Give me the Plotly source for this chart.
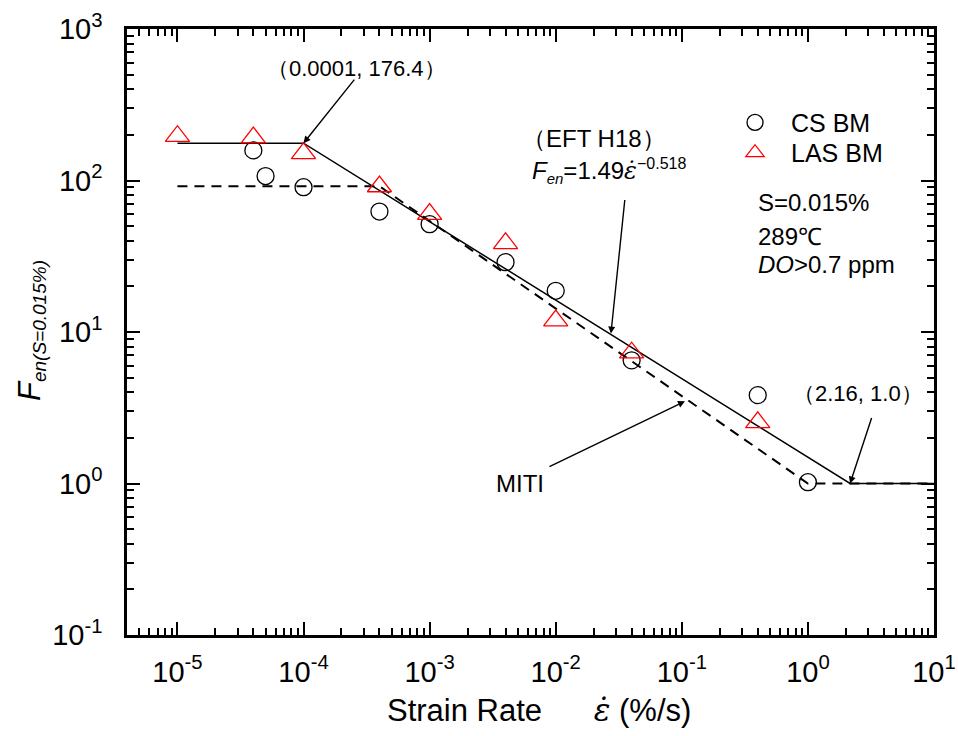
import numpy as np
import plotly.graph_objects as go

# ---------------- data ----------------
cs_x = [4e-5, 5e-5, 1e-4, 4e-4, 1e-3, 4e-3, 1e-2, 4e-2, 0.4, 1.0]
cs_y = [158, 107, 90.3, 62.4, 51.5, 28.9, 18.7, 6.5, 3.83, 1.02]

las_x = [1e-5, 4e-5, 1e-4, 4e-4, 1e-3, 4e-3, 1e-2, 4e-2, 0.4]
las_y = [196, 192, 151, 91.3, 60, 38.5, 11.9, 7.3, 2.53]

# EFT H18 model (knee points)
eft_x = [1e-5, 1e-4, 2.16, 10]
eft_y = [176.4, 176.4, 1.0, 1.0]

# MITI model (knee points)
miti_x = [1e-5, 4e-4, 1.0, 10]
miti_y = [91.7, 91.7, 1.0, 1.0]

x_tickvals = [1e-5, 1e-4, 1e-3, 1e-2, 1e-1, 1e0, 1e1]
x_ticktext = ["10<sup>-5</sup>", "10<sup>-4</sup>", "10<sup>-3</sup>", "10<sup>-2</sup>",
              "10<sup>-1</sup>", "10<sup>0</sup>", "10<sup>1</sup>"]
y_tickvals = [1e-1, 1e0, 1e1, 1e2, 1e3]
y_ticktext = ["10<sup>-1</sup>", "10<sup>0</sup>", "10<sup>1</sup>", "10<sup>2</sup>", "10<sup>3</sup>"]

x_minor = [k * 10.0 ** e for e in range(-6, 1) for k in range(2, 10)]
y_minor = [k * 10.0 ** e for e in range(-1, 3) for k in range(2, 10)]

FONT = "Liberation Sans, Arial, sans-serif"
EPS = "<span style='font-family:DejaVu Serif'><i>ε̇</i></span>"

fig = go.Figure()
fig.add_trace(go.Scatter(x=miti_x, y=miti_y, mode="lines", showlegend=False,
                         line=dict(color="black", width=2, dash="10px,7px")))
fig.add_trace(go.Scatter(x=eft_x, y=eft_y, mode="lines", showlegend=False,
                         line=dict(color="black", width=1.5)))
fig.add_trace(go.Scatter(x=cs_x, y=cs_y, mode="markers", name="CS BM", legend="legend",
                         marker=dict(symbol="circle-open", size=17,
                                     line=dict(color="black", width=1.3), color="black")))
fig.add_trace(go.Scatter(x=las_x, y=las_y, mode="markers", name="LAS BM", legend="legend2",
                         marker=dict(symbol="triangle-up-open", size=21,
                                     line=dict(color="red", width=1.3), color="red")))

axis_common = dict(
    type="log", showline=True, linecolor="black", linewidth=2.5, mirror="ticks",
    ticks="inside", ticklen=13, tickwidth=1.6, tickcolor="black", automargin=False,
    showgrid=False, zeroline=False, tickmode="array",
    tickfont=dict(family=FONT, size=29, color="black"),
)

fig.update_xaxes(**axis_common, range=[-5.4, 1], tickvals=x_tickvals, ticktext=x_ticktext,
                 ticklabelstandoff=9,
                 minor=dict(ticks="inside", ticklen=7, tickwidth=1.6, tickcolor="black",
                            tickmode="array", tickvals=x_minor, showgrid=False))
fig.update_yaxes(**axis_common, range=[-1, 3], tickvals=y_tickvals, ticktext=y_ticktext,
                 ticklabelstandoff=16,
                 minor=dict(ticks="inside", ticklen=7, tickwidth=1.6, tickcolor="black",
                            tickmode="array", tickvals=y_minor, showgrid=False))


def txt(text, x, y, size=23, xanchor="center", angle=0):
    return dict(text=text, x=x, y=y, xref="paper", yref="paper", xanchor=xanchor,
                yanchor="middle", showarrow=False, textangle=angle,
                font=dict(family=FONT, size=size, color="black"))


def arrow(x, y, ax, ay):
    return dict(text="", x=x, y=y, xref="x", yref="y", showarrow=True, ax=ax, ay=ay,
                arrowhead=2, arrowsize=1, arrowwidth=1.4, arrowcolor="black")


annotations = [
    txt("（0.0001, 176.4）", 0.285, 0.9356, size=22),
    txt("（EFT H18）", 0.5787, 0.8185, size=24),
    txt("<i>F</i><sub><span style='font-size:15px'><i>en</i></span></sub>=1.49" + EPS +
        "<sup><span style='font-size:16px'>−0.518</span></sup>",
        0.4994, 0.765, size=24, xanchor="left"),
    txt("MITI", 0.487, 0.2508, size=24),
    txt("（2.16, 1.0）", 0.9058, 0.3977, size=22),
    txt("S=0.015%", 0.7794, 0.7145, size=24, xanchor="left"),
    txt("289℃", 0.7794, 0.6584, size=24, xanchor="left"),
    txt("<i>DO</i>>0.7 ppm", 0.7794, 0.6106, size=24, xanchor="left"),
    arrow(np.log10(1e-4), np.log10(176.4), 52, -65),
    arrow(-1.562, 0.99, 14, -135),
    arrow(-0.975, 0.543, -137, 66),
    arrow(np.log10(2.16), 0.0, 22, -67),
    # axis titles
    txt("<i>F</i><sub><span style='font-size:19px'><i>en(S=0.015%)</i></span></sub>",
        -0.119, 0.5033, size=31, angle=-90),
    txt("Strain Rate\u00a0\u00a0\u00a0\u00a0\u00a0\u00a0" + EPS + "\u00a0(%/s)", 0.511, -0.1238, size=31),
]

leg_common = dict(xanchor="left", yanchor="top", bgcolor="rgba(0,0,0,0)",
                  font=dict(family=FONT, size=25, color="black"), itemwidth=62)

fig.update_layout(
    width=958, height=736,
    margin=dict(l=127, r=24, t=29, b=101, autoexpand=False),
    paper_bgcolor="white", plot_bgcolor="white",
    font=dict(family=FONT, color="black"),
    annotations=annotations,
    legend=dict(x=0.7336, y=0.8834, **leg_common),
    legend2=dict(x=0.7336, y=0.8334, **leg_common),
)

fig.write_html("out.html")
